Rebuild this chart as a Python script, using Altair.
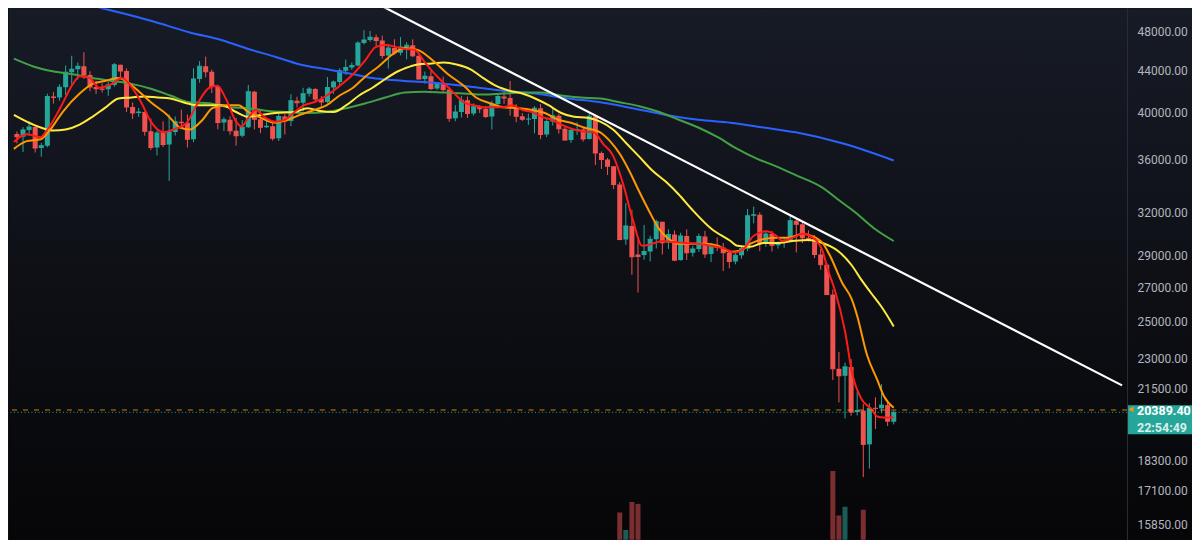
import altair as alt
import pandas as pd

# ---------------- data (daily candles, index 0 = first visible day) ----------------
opens = [38150, 37920, 38483, 38744, 36952, 37154, 41501, 41412, 42381, 43840,
         44118, 44439, 43565, 42407, 42244, 42197, 42586, 44576, 43961, 40538,
         40000, 40091, 38386, 37009, 38231, 37251, 38327, 39219, 39116, 37699,
         43160, 44421, 43892, 42455, 39148, 39397, 38420, 37989, 38730, 41941,
         39422, 38730, 38807, 37777, 39671, 39280, 41114, 40917, 41757, 42201,
         41262, 41002, 42364, 42882, 43991, 44313, 44511, 46827, 47122, 47434,
         47067, 45510, 46283, 45811, 46407, 46580, 45497, 43170, 43444, 42252,
         42753, 42158, 39530, 40074, 41147, 39942, 40552, 40378, 39678, 40801,
         41493, 41358, 40480, 39709, 39441, 39450, 40426, 38112, 39235, 39742,
         38596, 37630, 38468, 38525, 37728, 39690, 36552, 36013, 35472, 34038,
         30077, 31018, 29080, 29048, 29284, 30102, 31306, 29863, 30425, 28716,
         30319, 29201, 29445, 30294, 29110, 29655, 29542, 29201, 28629, 29031,
         29468, 31734, 31801, 29805, 30452, 29700, 29865, 29920, 31373, 31125,
         30205, 30110, 29092, 28425, 26575, 22488, 22136, 22584, 20401, 20469,
         18970, 20574, 20573, 20724, 19960]
highs = [38360, 38744, 39265, 38835, 37388, 41772, 41913, 42656, 44500, 45492,
         44799, 45855, 43920, 43000, 42760, 42876, 44751, 44580, 44200, 40959,
         40444, 40134, 39494, 38429, 39249, 39843, 39683, 40295, 39855, 44225,
         44950, 45400, 44102, 42527, 39613, 39693, 39547, 39362, 42594, 42039,
         40236, 39486, 39310, 39947, 39887, 41718, 41478, 42325, 42400, 42296,
         41544, 43361, 43025, 44220, 45094, 44812, 46999, 48189, 48096, 47700,
         47600, 46720, 47213, 47444, 46890, 47200, 45507, 43900, 43970, 42800,
         43410, 42414, 40699, 41561, 41500, 40870, 40709, 40595, 41116, 41760,
         42199, 42976, 40795, 39980, 39940, 40616, 40797, 39474, 40372, 39925,
         38795, 38675, 39167, 38651, 39980, 39845, 36675, 36146, 35500, 34243,
         32659, 32162, 30033, 31083, 30343, 31460, 31308, 30788, 30700, 30545,
         30777, 29656, 30487, 30670, 29835, 30223, 29856, 29400, 29251, 29600,
         32222, 32399, 31982, 30689, 30675, 29950, 30189, 31765, 31574, 31338,
         30700, 30383, 29440, 28544, 26886, 23362, 22800, 22980, 21365, 20777,
         20815, 21090, 21723, 20873, 20460]
lows = [37350, 36632, 38000, 36586, 36250, 37026, 40843, 41116, 41646, 42666,
        43117, 43188, 42000, 41748, 41870, 41570, 42428, 43311, 40073, 39450,
        39639, 38000, 36800, 36350, 37036, 34322, 38014, 38600, 37000, 37450,
        42809, 43334, 41832, 38550, 38407, 38088, 37155, 37867, 38656, 38539,
        38223, 38660, 37578, 37555, 38098, 38828, 40500, 40135, 41499, 40911,
        40467, 40875, 41751, 42560, 43579, 44071, 44422, 46663, 46950, 46445,
        45200, 44200, 45620, 45530, 45118, 45353, 43121, 42727, 42107, 42125,
        41868, 39200, 39254, 39588, 39551, 39766, 39992, 39546, 38536, 40571,
        40820, 39751, 39177, 39285, 38929, 38200, 37702, 37881, 38881, 38175,
        37578, 37386, 38052, 37500, 37670, 35571, 35258, 34785, 33713, 30033,
        29730, 27785, 26700, 28751, 28632, 29480, 29088, 29450, 28654, 28693,
        28730, 28947, 29255, 28866, 28600, 29300, 28019, 28200, 28451, 28811,
        29299, 31200, 29300, 29594, 29282, 29475, 29529, 29890, 29218, 29843,
        29944, 28850, 28100, 26560, 21925, 20846, 20111, 20232, 20246, 17622,
        17960, 19638, 20348, 19770, 19840]
closes = [37920, 38483, 38744, 36952, 37154, 41501, 41412, 42381, 43840, 44118,
          44439, 43565, 42407, 42244, 42197, 42586, 44576, 43961, 40538, 40000,
          40091, 38386, 37009, 38231, 37251, 38327, 39219, 39116, 37699, 43160,
          44421, 43892, 42455, 39148, 39397, 38420, 37989, 38730, 41941, 39422,
          38730, 38807, 37777, 39671, 39280, 41114, 40917, 41757, 42201, 41262,
          41002, 42364, 42882, 43991, 44313, 44511, 46827, 47122, 47434, 47067,
          45510, 46283, 45811, 46407, 46580, 45497, 43170, 43444, 42252, 42753,
          42158, 39530, 40074, 41147, 39942, 40552, 40378, 39678, 40801, 41493,
          41358, 40480, 39709, 39441, 39450, 40426, 38112, 39235, 39742, 38596,
          37630, 38468, 38525, 37728, 39690, 36552, 36013, 35472, 34038, 30077,
          31018, 28937, 28960, 29284, 30102, 31306, 29863, 30425, 28716, 30319,
          29201, 29445, 30294, 29110, 29655, 29542, 29201, 28629, 29031, 29468,
          31734, 31801, 29805, 30452, 29700, 29865, 29920, 31373, 31125, 30205,
          30110, 29092, 28425, 26575, 22488, 22136, 22584, 20401, 20469, 18970,
          20574, 20573, 20724, 19988, 20389.4]

# visible (tall) volume bars only
vol_idx = [99, 100, 101, 102, 134, 135, 136, 139]
vol_vals = [142000, 115000, 158500, 155500, 206500, 137500, 151000, 146500]

# moving averages (index, price)
red_i = [-0.5, 1.6, 3.9, 4.8, 7.1, 9.2, 10.3, 12.0, 13.5, 15.6, 17.2, 18.3, 20.4, 22.0, 24.1,
         25.7, 27.9, 29.5, 31.6, 32.9, 34.3, 36.0, 36.9, 38.0, 39.2, 40.8, 42.4, 44.0, 45.6, 47.2,
         48.8, 50.9, 53.0, 55.2, 57.3, 58.9, 60.5, 63.7, 65.3, 66.9, 68.5, 70.1, 71.7, 73.4, 75.0,
         76.6, 78.2, 79.8, 81.4, 83.0, 84.6, 86.2, 87.8, 89.4, 91.5, 93.1, 94.7, 96.3, 97.9, 99.5,
         101.1, 102.7, 104.3, 105.9, 107.5, 109.8, 111.9, 114.0, 116.2, 117.8, 119.4, 121.0, 123.1,
         124.7, 125.8, 127.4, 129.1, 130.7, 132.3, 133.2, 134.3, 136.0, 137.2, 138.7, 140.3, 141.3,
         142.4, 144.0]
red_v = [37460, 38120, 37870, 38370, 40430, 42700, 43450, 43260, 42330, 42700, 43260, 42790, 40970, 39220, 38290,
         38540, 39130, 40700, 42330, 42510, 41320, 39220, 38790, 39560, 40260, 39560, 39220, 39390, 40080, 40700,
         40970, 41600, 42510, 43640, 45100, 46390, 46600, 46190, 46100, 44900, 43740, 42790, 41870, 40970, 40700,
         40520, 40520, 40520, 40700, 40260, 40080, 39650, 39390, 38960, 38540, 38370, 38290, 37295, 36330, 34180,
         31530, 29660, 29790, 29980, 29920, 29850, 29790, 29660, 29460, 29210, 29460, 30340, 30640,
         30340, 29980, 30210, 30470, 30210, 29330, 28080, 26880, 24470, 22230, 21010, 20550, 20200,
         20150, 20150]

orange_i = [-0.5, 1.6, 3.9, 5.5, 7.5, 10.3, 12.4, 14.4, 16.7, 18.3, 19.9, 22.0, 24.7, 26.8, 28.4,
            30.5, 32.1, 34.3, 36.4, 38.0, 40.1, 42.4, 44.5, 46.5, 48.8, 50.9, 53.0, 55.2, 57.3, 59.4,
            61.6, 63.7, 65.8, 68.5, 70.6, 73.4, 75.4, 77.7, 79.8, 82.5, 84.6, 86.7, 88.9, 91.0, 93.1,
            95.8, 97.4, 99.0, 100.6, 102.2, 103.9, 105.5, 107.1, 108.7, 110.3, 113.0, 115.1, 117.2,
            118.8, 120.4, 122.6, 124.7, 126.8, 129.1, 130.0, 132.3, 133.5, 135.5, 137.1, 138.0, 139.6,
            141.3, 142.4, 144.0]
orange_v = [36890, 37540, 37700, 38540, 40080, 41780, 42700, 42980, 43260, 42790, 42050, 40970, 39820, 38710, 38540,
            39390, 40430, 40700, 40700, 40080, 39560, 39130, 39390, 39820, 40260, 40700, 41600, 42330, 43450, 44410,
            45590, 46290, 46100, 44900, 43740, 42510, 41410, 40880, 40520, 40430, 40260, 39990, 39390, 39130, 38710,
            38290, 37540, 36490, 35080, 33510, 32010, 30780, 30110, 29790, 29790, 29790, 29660, 29270,
            29330, 29790, 30110, 30210, 30210, 30470, 30400, 29850, 29030, 27310, 26300, 25330, 23210,
            21930, 21140, 20600]

yellow_i = [-0.5, 1.6, 3.9, 5.9, 8.0, 10.3, 12.4, 14.4, 16.7, 18.8, 20.9, 23.1, 25.2, 27.3, 29.5,
            31.6, 33.7, 36.0, 38.0, 40.1, 42.4, 45.6, 47.7, 49.8, 52.0, 54.1, 56.2, 58.4, 60.5, 62.6,
            63.7, 65.8, 68.1, 70.1, 72.2, 74.5, 76.6, 78.7, 80.9, 83.0, 85.1, 87.3, 89.4, 91.5, 93.7,
            95.8, 97.9, 100.2, 102.2, 104.3, 106.6, 108.7, 110.8, 114.0, 117.2, 118.3, 120.4, 122.6,
            124.7, 127.4, 130.0, 132.3, 134.8, 137.1, 138.7, 140.8, 141.9, 144.0]
yellow_v = [39820, 39220, 38710, 38450, 38540, 38960, 39650, 40430, 41320, 41410, 41510, 41410, 41320, 40970, 40700,
            40700, 40700, 40080, 39650, 39820, 39990, 40080, 40430, 40170, 40080, 40700, 41600, 42330, 43170, 43930,
            44220, 44610, 44700, 44800, 44610, 44120, 43260, 42510, 42050, 41780, 41320, 40700, 39990, 39650, 39560,
            39220, 38540, 37295, 36250, 35160, 34250, 33290, 32220, 30840, 29980, 29660, 29590, 29850,
            29850, 29980, 30050, 29850, 29330, 28390, 27470, 26420, 25900, 24740]

green_i = [-0.5, 2.7, 5.9, 9.2, 12.4, 15.6, 18.8, 22.0, 25.2, 28.4, 31.6, 34.8, 38.0, 41.3, 44.5,
           47.7, 50.9, 54.1, 57.3, 60.5, 63.7, 66.9, 70.1, 73.4, 76.6, 79.8, 83.0, 86.2, 89.4, 92.6,
           95.8, 99.0, 102.2, 105.5, 108.7, 111.9, 115.1, 118.3, 121.5, 124.7, 127.9, 132.3, 134.8,
           137.6, 140.8, 144.0]
green_v = [45190, 44410, 43930, 43640, 43260, 42980, 42700, 42240, 41600, 40970, 40880, 40520, 40430, 40170, 40080,
           39990, 40080, 40430, 40880, 41410, 41870, 41960, 41870, 41780, 41690, 41780, 41870, 41870, 41600, 41410,
           41320, 40970, 40610, 40080, 39390, 38710, 37870, 36890, 36090, 35470, 34780, 33810, 32930,
           32010, 30840, 29980]

blue_i = [7.0, 14.0, 17.2, 22.0, 28.4, 33.7, 38.0, 42.4, 46.5, 50.9, 55.2, 58.4, 61.6, 63.7,
          69.0, 74.5, 79.8, 85.1, 90.5, 95.8, 101.1, 106.6, 111.9, 117.2, 122.6, 127.9, 136.0, 144.0]
blue_v = [51740, 50630, 50080, 49210, 47940, 47110, 46190, 45390, 44610, 44120, 43640, 43260, 43070, 42980,
          42790, 42420, 42050, 41780, 41320, 40970, 40430, 39820, 39390, 39130, 38710, 38290, 37295, 35940]

trend_i = [60.0, 181.5]
trend_v = [50850, 21665]

last_price = 20389.4
marker_price = 20500
price_text = "20389.40"
countdown = "22:54:49"
tick_values = [48000, 44000, 40000, 36000, 32000, 29000, 27000, 25000, 23000, 21500, 18300, 17100, 15850]

# ---------------- styling ----------------
UP, DOWN = "#26a69a", "#ef5350"
VOL_UP, VOL_DOWN = "#1a5c56", "#7b2e30"
W, H, AX = 1119, 532, 65
Y_DOMAIN = [15305, 50626]
X_DOMAIN = [-0.48, 181.5]
FONT = "Roboto"


def ysc():
    return alt.Scale(type="log", domain=Y_DOMAIN, nice=False, zero=False)


X = alt.X("i:Q", scale=alt.Scale(domain=X_DOMAIN, nice=False, zero=False), axis=None)
cond_color = alt.condition("datum.dir == 'up'", alt.value(UP), alt.value(DOWN))

candles = pd.DataFrame({"i": list(range(len(opens))), "open": opens, "high": highs,
                        "low": lows, "close": closes})
candles["dir"] = ["up" if c >= o else "down" for o, c in zip(opens, closes)]

vol_df = pd.DataFrame({"i": vol_idx, "vol": vol_vals,
                       "dir": ["up" if closes[k] >= opens[k] else "down" for k in vol_idx]})

bg = alt.Chart(alt.Data(values=[{}])).mark_rect(
    clip=False,
    fill=alt.LinearGradient(gradient="linear", x1=0, x2=0, y1=0, y2=1,
                            stops=[alt.GradientStop(color="#171b26", offset=0),
                                   alt.GradientStop(color="#0e1016", offset=0.5),
                                   alt.GradientStop(color="#060608", offset=1)]),
).encode(x=alt.value(0), x2=alt.value(W + AX), y=alt.value(0), y2=alt.value(H))

vol = alt.Chart(vol_df).mark_bar(size=5, clip=True).encode(
    x=X,
    y=alt.Y("vol:Q", scale=alt.Scale(domain=[100000, 922000], nice=False, zero=False), axis=None),
    color=alt.condition("datum.dir == 'up'", alt.value(VOL_UP), alt.value(VOL_DOWN)),
)

price_axis = alt.Axis(orient="right", values=tick_values, format=".2f", title=None, grid=False,
                      ticks=False, tickSize=0, labelPadding=10, domain=True, domainColor="#2a2e39",
                      labelColor="#b2b5be", labelFontSize=12, labelFont=FONT, labelOverlap=False,
                      labelFlush=False, minExtent=AX, maxExtent=AX, zindex=1)

wicks = alt.Chart(candles).mark_rule(strokeWidth=1, clip=True).encode(
    x=X, y=alt.Y("low:Q", scale=ysc(), axis=price_axis), y2="high:Q", color=cond_color)
bodies = alt.Chart(candles).mark_bar(size=5, clip=True).encode(
    x=X, y=alt.Y("open:Q", scale=ysc(), axis=None), y2="close:Q", color=cond_color)
closes_tick = alt.Chart(candles).mark_tick(orient="horizontal", size=5, thickness=1, clip=True,
                                           opacity=1).encode(
    x=X, y=alt.Y("close:Q", scale=ysc(), axis=None), color=cond_color)


def line_layer(idx, vals, color, width=2, interp="monotone"):
    df = pd.DataFrame({"i": idx, "v": vals})
    return alt.Chart(df).mark_line(color=color, strokeWidth=width, clip=True,
                                   interpolate=interp).encode(
        x=X, y=alt.Y("v:Q", scale=ysc(), axis=None))


blue = line_layer(blue_i, blue_v, "#2962ff")
green = line_layer(green_i, green_v, "#43a047")
yellow = line_layer(yellow_i, yellow_v, "#ffeb3b")
orange = line_layer(orange_i, orange_v, "#ff9800")
red = line_layer(red_i, red_v, "#ff1a1a")
trend = line_layer(trend_i, trend_v, "#ffffff", width=2.2, interp="linear")

lab = pd.DataFrame({"p": [last_price], "t1": [price_text], "t2": [countdown], "m": [marker_price]})

orange_rule = alt.Chart(lab).mark_rule(color="#ff9800", opacity=0.55, strokeDash=[5, 6],
                                       strokeWidth=1.5).encode(
    y=alt.Y("m:Q", scale=ysc(), axis=None))
teal_rule = alt.Chart(lab).mark_rule(color=UP, strokeDash=[1, 2.5], strokeWidth=1).encode(
    y=alt.Y("p:Q", scale=ysc(), axis=None))

box = alt.Chart(lab).mark_tick(orient="horizontal", size=AX, thickness=29, color=UP, opacity=1,
                               yOffset=7.4, clip=False).encode(
    x=alt.value(W + AX / 2), y=alt.Y("p:Q", scale=ysc(), axis=None))
t1 = alt.Chart(lab).mark_text(align="left", baseline="middle", dy=-1, fontSize=12.5,
                              fontWeight="bold", color="#ffffff", font=FONT).encode(
    x=alt.value(W + 10), y=alt.Y("p:Q", scale=ysc(), axis=None), text="t1:N")
t2 = alt.Chart(lab).mark_text(align="left", baseline="middle", dy=15.4, fontSize=12.5,
                              fontWeight="bold", color="#ffffff", opacity=0.82, font=FONT).encode(
    x=alt.value(W + 10), y=alt.Y("p:Q", scale=ysc(), axis=None), text="t2:N")
marker = alt.Chart(lab).mark_point(shape="triangle-left", filled=True, size=32, color="#ff9800",
                                   opacity=1, yOffset=-3).encode(
    x=alt.value(W + 4), y=alt.Y("p:Q", scale=ysc(), axis=None))

chart = alt.layer(
    bg, vol, wicks, bodies, closes_tick,
    blue, green, yellow, orange, red, trend,
    orange_rule, teal_rule, box, t1, t2, marker,
).resolve_scale(y="independent").properties(
    width=W, height=H, padding=0, background="#0e1016"
).configure_view(stroke=None)

chart.save("out.html", embed_options={"renderer": "svg", "actions": False})
